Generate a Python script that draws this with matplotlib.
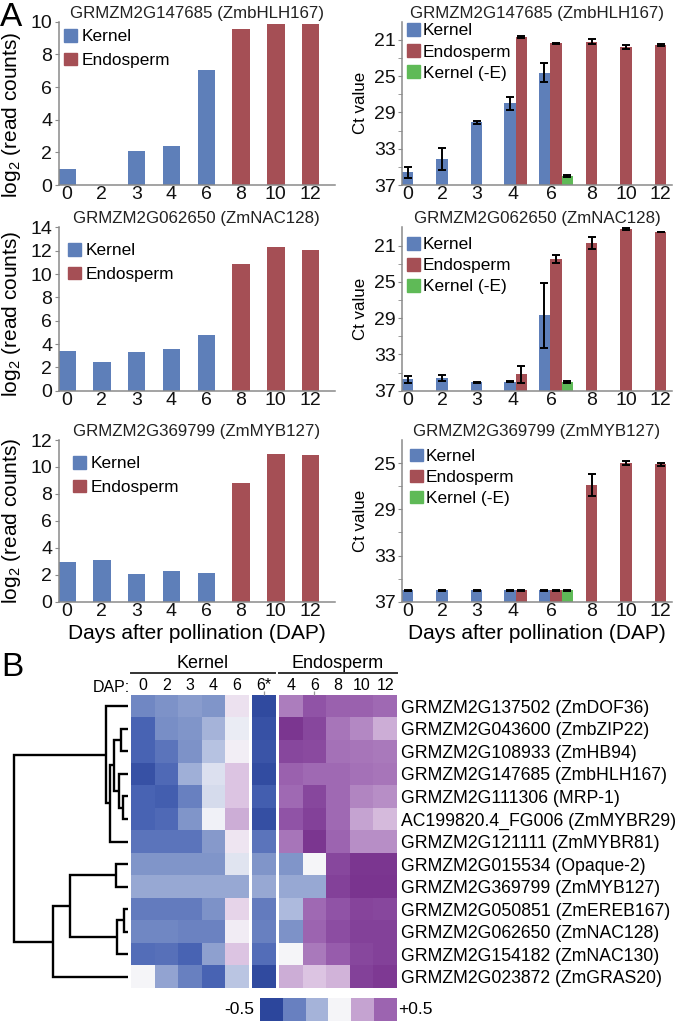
import numpy as np
import matplotlib.pyplot as plt
from matplotlib.patches import Patch
from matplotlib.colors import LinearSegmentedColormap

plt.rcParams['font.family'] = ['Liberation Sans', 'DejaVu Sans']
plt.rcParams['mathtext.default'] = 'regular'

# ---- panel A data ----
dap = ["0", "2", "3", "4", "6", "8", "10", "12"]
genes_a = ["GRMZM2G147685 (ZmbHLH167)",
           "GRMZM2G062650 (ZmNAC128)",
           "GRMZM2G369799 (ZmMYB127)"]

# RNA-seq, log2 read counts: kernel 0-6 DAP, endosperm 8-12 DAP
reads_kernel = [[0.96, 0.0, 2.1, 2.39, 7.02],
                [3.42, 2.42, 3.36, 3.62, 4.78],
                [2.96, 3.08, 2.05, 2.29, 2.1]]
reads_endo = [[9.57, 9.86, 9.84],
              [10.88, 12.3, 12.04],
              [8.8, 10.97, 10.9]]
reads_ymax = [10, 14, 12]

# qRT-PCR Ct values: kernel 0,2,3,4,6 / endosperm 4,6,8,10,12 / kernel (-E) 6
ct_kernel = [[35.6, 34.1, 30.1, 28.0, 24.6],
             [35.75, 35.6, 36.05, 36.0, 28.7],
             [36.0, 36.0, 36.0, 36.0, 36.0]]
ct_kernel_err = [[0.6, 1.2, 0.2, 0.7, 1.05],
                 [0.37, 0.35, 0.05, 0.05, 3.55],
                 [0.05, 0.05, 0.05, 0.05, 0.05]]
ct_endo = [[20.7, 21.4, 21.2, 21.8, 21.55],
           [35.2, 22.47, 20.67, 19.2, 19.5],
           [36.0, 36.0, 26.9, 25.0, 25.1]]
ct_endo_err = [[0.1, 0.1, 0.3, 0.2, 0.1],
               [0.95, 0.42, 0.65, 0.1, 0.05],
               [0.05, 0.05, 0.95, 0.15, 0.15]]
ct_minus_e = [36.05, 36.05, 36.0]
ct_minus_e_err = [0.1, 0.1, 0.05]
ct_top = [19, 19, 23]
ct_major = [[21, 25, 29, 33, 37], [21, 25, 29, 33, 37], [25, 29, 33, 37]]
ct_minor = [[23, 27, 31, 35], [23, 27, 31, 35], [27, 31, 35]]

# bar slots on the Ct charts (one slot = one bar width)
kernel_pos = [0.5, 3.5, 6.5, 9.4, 12.4]
endo_pos = [10.4, 13.4, 16.5, 19.5, 22.5]
minus_e_pos = [14.4]
ct_tick_pos = [0.5, 3.5, 6.5, 9.7, 13.0, 16.5, 19.5, 22.5]

# ---- panel B data ----
genes_b = ["GRMZM2G137502 (ZmDOF36)", "GRMZM2G043600 (ZmbZIP22)",
           "GRMZM2G108933 (ZmHB94)", "GRMZM2G147685 (ZmbHLH167)",
           "GRMZM2G111306 (MRP-1)", "AC199820.4_FG006 (ZmMYBR29)",
           "GRMZM2G121111 (ZmMYBR81)", "GRMZM2G015534 (Opaque-2)",
           "GRMZM2G369799 (ZmMYB127)", "GRMZM2G050851 (ZmEREB167)",
           "GRMZM2G062650 (ZmNAC128)", "GRMZM2G154182 (ZmNAC130)",
           "GRMZM2G023872 (ZmGRAS20)"]
kernel_cols = ["0", "2", "3", "4", "6"]
star_cols = ["6*"]
endo_cols = ["4", "6", "8", "10", "12"]
heat = np.array([
    [-0.28, -0.25, -0.22, -0.24, 0.06, -0.48, 0.28, 0.39, 0.35, 0.35, 0.33],
    [-0.38, -0.26, -0.24, -0.16, -0.02, -0.45, 0.49, 0.43, 0.30, 0.25, 0.18],
    [-0.38, -0.33, -0.25, -0.12, 0.02, -0.44, 0.43, 0.42, 0.31, 0.30, 0.29],
    [-0.45, -0.36, -0.17, -0.05, 0.14, -0.47, 0.35, 0.33, 0.33, 0.31, 0.30],
    [-0.38, -0.40, -0.30, -0.06, 0.14, -0.40, 0.33, 0.43, 0.33, 0.26, 0.24],
    [-0.38, -0.36, -0.24, -0.01, 0.18, -0.46, 0.39, 0.45, 0.33, 0.20, 0.16],
    [-0.33, -0.33, -0.33, -0.23, 0.05, -0.33, 0.30, 0.49, 0.34, 0.24, 0.24],
    [-0.24, -0.24, -0.24, -0.24, -0.04, -0.24, -0.24, 0.00, 0.43, 0.49, 0.49],
    [-0.19, -0.19, -0.19, -0.19, -0.19, -0.19, -0.19, -0.19, 0.45, 0.50, 0.50],
    [-0.31, -0.31, -0.31, -0.25, 0.10, -0.31, -0.14, 0.33, 0.39, 0.44, 0.43],
    [-0.28, -0.28, -0.29, -0.29, 0.03, -0.30, -0.25, 0.34, 0.41, 0.45, 0.45],
    [-0.35, -0.34, -0.38, -0.21, 0.14, -0.35, 0.00, 0.29, 0.36, 0.43, 0.45],
    [0.00, -0.20, -0.30, -0.38, -0.11, -0.48, 0.18, 0.14, 0.17, 0.45, 0.48],
])
legend_vals = [-0.5, -0.3, -0.16, 0.0, 0.2, 0.34]

# dendrogram merges: (child a, child b, height); new ids start at 13
merges = [(1, 2, 7.3), (4, 5, 5.0), (3, 14, 9.0), (13, 15, 14.0),
          (16, 6, 18.0), (0, 17, 22.0), (7, 8, 12.0), (9, 10, 4.0),
          (20, 11, 10.7), (19, 21, 58.0), (22, 12, 74.7), (18, 23, 114.0)]

blue = '#5e7fb9'
red = '#a54f55'
green = '#5fba57'
spine_c = '#8a8a8a'

heat_cmap = LinearSegmentedColormap.from_list(
    'bp', ['#2c469c', '#4a65b5', '#7d92c8', '#b4c0e0', '#f6f6f9',
           '#e2cce6', '#b48ac4', '#9458aa', '#7a348f'])

W, H = 680, 1023
fig = plt.figure(figsize=(W / 100, H / 100), dpi=100)


def px_axes(x0, y0, x1, y1):
    return fig.add_axes([x0 / W, 1 - y1 / H, (x1 - x0) / W, (y1 - y0) / H])


def style(ax):
    for s in ['top', 'right']:
        ax.spines[s].set_visible(False)
    for s in ['left', 'bottom']:
        ax.spines[s].set_color(spine_c)
        ax.spines[s].set_linewidth(1.1)
    ax.tick_params(axis='y', colors=spine_c, labelcolor='#111111',
                   labelsize=14, length=3, pad=1.5)
    ax.tick_params(axis='x', length=0, labelsize=14, pad=1, labelcolor='#111111')


rows_y = [(21.7, 185), (227.5, 390.7), (440, 601.7)]
left_leg = [(0.02, 0.955), (0.034, 0.905), (0.052, 0.9)]
right_leg = [(0.02, 0.99), (0.02, 0.94), (0.03, 0.945)]
ylabel_y = [0.43, 0.47, 0.5]

for i in range(3):
    y0, y1 = rows_y[i]
    # --- RNA-seq bars ---
    ax = px_axes(58.5, y0, 335, y1)
    style(ax)
    ax.bar(range(5), reads_kernel[i], width=0.5, color=blue)
    ax.bar(range(5, 8), reads_endo[i], width=0.5, color=red)
    ax.set_xlim(-0.245, 7.7)
    ax.set_ylim(0, reads_ymax[i])
    ax.set_yticks(range(0, reads_ymax[i] + 1, 2))
    ax.set_xticks(range(8), dap)
    ax.set_title(genes_a[i], fontsize=12.2, pad=3, color='#222222')
    ax.set_ylabel('log$_2$ (read counts)', fontsize=15)
    ax.yaxis.set_label_coords(-0.13, ylabel_y[i])
    ax.legend(handles=[Patch(color=blue, label='Kernel'),
                       Patch(color=red, label='Endosperm')],
              loc='upper left', bbox_to_anchor=left_leg[i], frameon=False,
              fontsize=12.4, handlelength=0.75, handleheight=0.75,
              handletextpad=0.3, labelspacing=0.48, borderpad=0,
              borderaxespad=0)
    if i == 2:
        ax.set_xlabel('Days after pollination (DAP)', fontsize=15, labelpad=3)

    # --- qRT-PCR Ct bars ---
    ax = px_axes(402, y0, 672, y1)
    style(ax)
    k = np.array(ct_kernel[i])
    e = np.array(ct_endo[i])
    m = np.array([ct_minus_e[i]])
    ax.bar(kernel_pos, k - 37, bottom=37, width=1.0, color=blue)
    ax.bar(endo_pos, e - 37, bottom=37, width=1.0, color=red)
    ax.bar(minus_e_pos, m - 37, bottom=37, width=1.0, color=green)
    err_kw = dict(fmt='none', ecolor='black', elinewidth=1.4, capsize=2.8,
                  capthick=1.4)
    ax.errorbar(kernel_pos, k, yerr=ct_kernel_err[i], **err_kw)
    ax.errorbar(endo_pos, e, yerr=ct_endo_err[i], **err_kw)
    ax.errorbar(minus_e_pos, m, yerr=[ct_minus_e_err[i]], **err_kw)
    ax.set_xlim(0, 23.5)
    ax.set_ylim(37, ct_top[i])
    ax.set_yticks(ct_major[i])
    ax.set_yticks(ct_minor[i], minor=True)
    ax.tick_params(axis='y', which='minor', colors=spine_c, length=3)
    ax.set_xticks(ct_tick_pos, dap)
    ax.set_title(genes_a[i], fontsize=12.2, pad=3, color='#222222')
    ax.set_ylabel('Ct value', fontsize=12.2, labelpad=4)
    ax.legend(handles=[Patch(color=blue, label='Kernel'),
                       Patch(color=red, label='Endosperm'),
                       Patch(color=green, label='Kernel (-E)')],
              loc='upper left', bbox_to_anchor=right_leg[i], frameon=False,
              fontsize=12.4, handlelength=0.72, handleheight=0.72,
              handletextpad=0.18, labelspacing=0.34, borderpad=0,
              borderaxespad=0)
    if i == 2:
        ax.set_xlabel('Days after pollination (DAP)', fontsize=15, labelpad=3)

fig.text(0 / W, 1 - 17 / H, 'A', fontsize=24, va='center', ha='left')
fig.text(1 / W, 1 - 667 / H, 'B', fontsize=24, va='center', ha='left')

# ---- panel B heatmap ----
hy0, hy1 = 695, 988
blocks = [(131, 248.5, heat[:, 0:5], kernel_cols, []),
          (252, 276, heat[:, 5:6], star_cols, [0]),
          (279, 397, heat[:, 6:11], endo_cols, [1])]
for j, (x0, x1, vals, labels, marked) in enumerate(blocks):
    ax = px_axes(x0, hy0, x1, hy1)
    ax.imshow(vals, cmap=heat_cmap, vmin=-0.5, vmax=0.5, aspect='auto',
              interpolation='nearest')
    ax.set_xticks(range(len(labels)), labels)
    ax.xaxis.tick_top()
    ax.tick_params(axis='x', length=3, width=0.9, color='#999999',
                   labelsize=11.5, pad=-1.5)
    for n, t in enumerate(ax.xaxis.get_major_ticks()):
        if n not in marked:
            t.tick2line.set_visible(False)
    for s in ax.spines.values():
        s.set_visible(False)
    if j == 2:
        ax.yaxis.tick_right()
        ax.set_yticks(range(len(genes_b)), genes_b)
        ax.tick_params(axis='y', length=0, labelsize=12.7, pad=3)
    else:
        ax.set_yticks([])

fig.text(130 / W, 1 - 687 / H, 'DAP:', fontsize=11.5, ha='right', va='center')
fig.text(203 / W, 1 - 664 / H, 'Kernel', fontsize=13, ha='center', va='center')
fig.text(338 / W, 1 - 664 / H, 'Endosperm', fontsize=13, ha='center',
         va='center')
fig.add_artist(plt.Line2D([131 / W, 275 / W], [1 - 673 / H] * 2,
                          color='#333333', lw=1.4))
fig.add_artist(plt.Line2D([279 / W, 397 / W], [1 - 673 / H] * 2,
                          color='#333333', lw=1.4))

# ---- dendrogram ----
axd = px_axes(14, hy0, 128, hy1)
axd.set_xlim(114, 0)
axd.set_ylim(len(genes_b), 0)
axd.axis('off')
node_y = {i: i + 0.5 for i in range(len(genes_b))}
node_x = {i: 0.0 for i in range(len(genes_b))}
for n, (a, b, h) in enumerate(merges):
    axd.plot([node_x[a], h, h, node_x[b]],
             [node_y[a], node_y[a], node_y[b], node_y[b]],
             color='black', lw=1.7, clip_on=False,
             solid_joinstyle='miter', solid_capstyle='butt')
    nid = len(genes_b) + n
    node_y[nid] = (node_y[a] + node_y[b]) / 2
    node_x[nid] = h

# ---- colour key ----
axk = px_axes(260, 998, 397, 1021)
axk.imshow([legend_vals], cmap=heat_cmap, vmin=-0.5, vmax=0.5, aspect='auto',
           interpolation='nearest')
axk.axis('off')
fig.text(254 / W, 1 - 1010 / H, '-0.5', fontsize=12.5, ha='right', va='center')
fig.text(398 / W, 1 - 1010 / H, '+0.5', fontsize=12.5, ha='left', va='center')

fig.savefig('out.png', dpi=100)
